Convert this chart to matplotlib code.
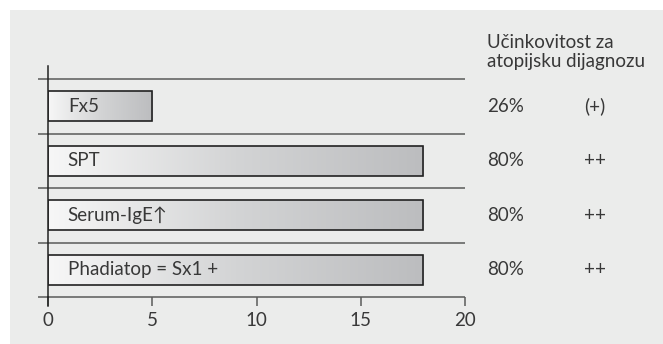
import matplotlib.pyplot as plt
import matplotlib.transforms as mtransforms
import numpy as np
from matplotlib.colors import LinearSegmentedColormap
from matplotlib.patches import Rectangle

# data
tests = ["Fx5", "SPT", "Serum-IgE\u2191", "Phadiatop = Sx1 +"]
scores = [5, 18, 18, 18]
efficacy = ["26%", "80%", "80%", "80%"]
rating = ["(+)", "++", "++", "++"]
x_ticks = [0, 5, 10, 15, 20]
header = "U\u010dinkovitost za\natopijsku dijagnozu"

plt.rcParams["font.family"] = ["Lato", "DejaVu Sans"]
TXT = "#383838"
LINE = "#5a5a5a"
BG = "#ebeceb"
FS = 13.5

W, H = 663, 344
fig = plt.figure(figsize=(W / 100, H / 100), dpi=100, facecolor="white")

# grey panel with white margin top/left
fig.add_artist(Rectangle((10 / W, 0), 1, 1 - 10 / H, transform=fig.transFigure,
                         facecolor=BG, edgecolor="none", zorder=-10))

ax = fig.add_axes([48 / W, 47 / H, 417 / W, 231 / H])
ax.set_zorder(1)
ax.set_facecolor("none")
for s in ["top", "right", "bottom"]:
    ax.spines[s].set_visible(False)
ax.spines["left"].set_color("#222222")
ax.spines["left"].set_linewidth(1.1)

# separators and bottom axis line
ax.hlines(np.arange(-0.5, len(tests)), -0.48, 20, color=LINE, lw=1.1, clip_on=False)

ax.set_xticks(x_ticks)
ax.set_xticklabels([str(t) for t in x_ticks], fontsize=FS, color=TXT)
ax.tick_params(axis="x", length=6.5, width=1.1, color=LINE, pad=4)
ax.set_yticks([])
ax.plot([0, 0], [3.5, 3.67], color="#222222", lw=1.1, clip_on=False)

cmap = LinearSegmentedColormap.from_list("bar", ["#f7f7f7", "#d3d4d5", "#bcbdbf"])
grad = np.linspace(0, 1, 256).reshape(1, -1)
h = 0.55
for i, (name, val) in enumerate(zip(tests, scores)):
    ax.imshow(grad, cmap=cmap, aspect="auto", extent=[0, val, i + h / 2, i - h / 2],
              zorder=2, interpolation="bicubic")
    ax.add_patch(Rectangle((0, i - h / 2), val, h, facecolor="none",
                           edgecolor="#222222", lw=1.2, zorder=3))
    ax.text(0.95, i, name, va="center", ha="left", fontsize=FS, color=TXT, zorder=4)
ax.set_xlim(0, 20)
ax.set_ylim(3.5, -0.74)

# right-hand columns (x in figure pixels, y in data rows)
trans = mtransforms.blended_transform_factory(fig.transFigure, ax.transData)
fig.text(487 / W, 1 - 52 / H, header, ha="left", va="center",
         fontsize=FS, color=TXT, linespacing=1.15)
for i in range(len(tests)):
    ax.text(487 / W, i, efficacy[i], transform=trans, ha="left", va="center",
            fontsize=FS, color=TXT, clip_on=False)
    ax.text(595 / W, i, rating[i], transform=trans, ha="center", va="center",
            fontsize=FS, color=TXT, clip_on=False)

fig.savefig("out.png", dpi=100, facecolor="white")
